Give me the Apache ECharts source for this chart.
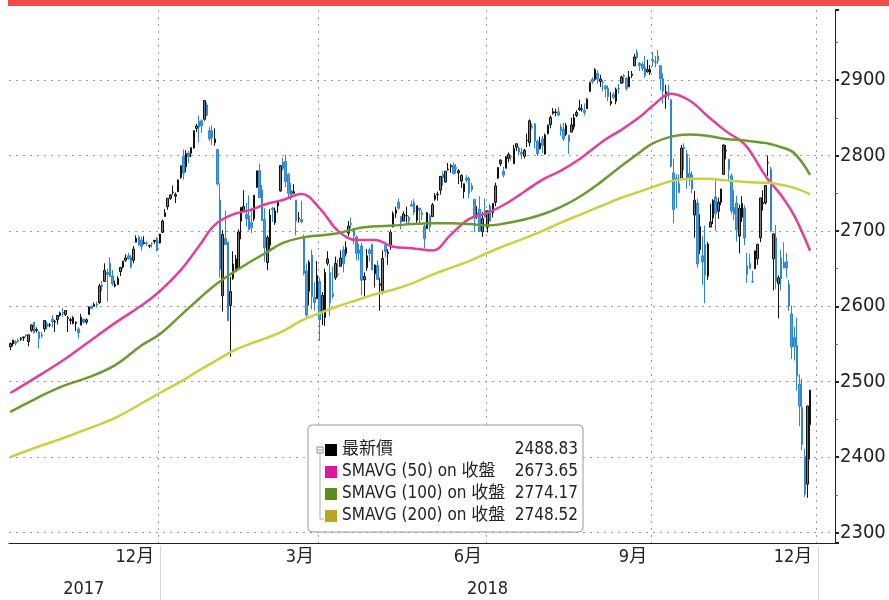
<!DOCTYPE html>
<html><head><meta charset="utf-8">
<script src="https://cdn.jsdelivr.net/npm/echarts@6/dist/echarts.min.js"></script>
<style>html,body{margin:0;padding:0;background:#fff}#c{width:889px;height:600px}</style>
</head><body><div id="c"></div>
<script>
// ---------- calendar ----------
const firstDay = '2017-10-10';
const lastCategoryDay = '2019-01-10';
const marketHolidays = ['2017-11-23','2017-12-25','2018-01-01','2018-01-15','2018-02-19','2018-03-30','2018-05-28','2018-07-04','2018-09-03','2018-11-22','2018-12-05','2018-12-25','2019-01-01'];

// ---------- daily prices (Oct 10 2017 .. Dec 27 2018) ----------
const opens = [
2546,2550,2553,2555,2556,2558,2562,2553,2568,2579,2568,2566,2562,2570,2577,2575,
2583,2579,2582,2588,2592,2589,2584,2581,2577,2577,2570,2575,2583,2579,2589,2600,2600,2603,2605,2628,2633,
2645,2657,2640,2627,2629,2646,2652,2661,2667,2665,2661,2685,2692,2688,2683,2684,2680,2683,2686,2690,
2684,2698,2719,2732,2743,2751,2746,2752,2771,2799,2785,2803,2803,2810,2836,2845,2846,2848,2867,2833,2833,
2817,2808,2741,2614,2690,2685,2601,2637,2646,2651,2713,2727,2722,2720,2711,2716,2758,2780,2754,
2715,2658,2681,2730,2711,2733,2753,2791,2792,2775,2754,2750,2741,2716,2715,2691,2647,2620,2668,2612,2610,
2633,2593,2585,2657,2645,2617,2638,2643,2653,2675,2670,2697,2710,2702,2692,2675,2680,2635,2651,2675,2682,
2643,2654,2628,2621,2681,2670,2679,2705,2723,2738,2719,2713,2720,2718,2735,2738,2714,2730,2724,2706,2703,2720,
2719,2742,2748,2754,2775,2765,2781,2785,2787,2784,2777,2766,2752,2770,2770,2760,2742,2723,2729,2699,2727,
2705,2733,2724,2738,2770,2789,2779,2783,2796,2799,2789,2811,2810,2804,2799,2820,2817,2839,2842,2819,2809,
2822,2802,2829,2841,2856,2857,2858,2838,2835,2828,2827,2831,2838,2853,2861,2861,2860,2862,2885,2901,2901,2909,2898,
2897,2892,2889,2869,2881,2872,2889,2896,2906,2903,2891,2906,2919,2937,2922,2921,2917,2911,2910,
2927,2924,2932,2919,2902,2878,2883,2874,2777,2770,2763,2768,2811,2802,2776,2774,2721,2737,2675,2667,2682,2640,2705,
2717,2745,2726,2738,2775,2806,2795,2773,2731,2737,2693,2718,2730,2654,2657,2633,2650,2663,2691,2736,2737,
2790,2782,2663,2691,2630,2664,2658,2659,2629,2590,2559,2548,2497,2466,2401,2364,2443];
const highs = [
2552,2555,2555,2557,2559,2559,2563,2562,2576,2579,2572,2567,2566,2582,2580,2578,
2588,2582,2588,2593,2598,2595,2587,2585,2587,2580,2572,2590,2583,2584,2600,2601,2605,2606,2630,2634,2657,
2650,2665,2648,2634,2640,2652,2660,2669,2671,2668,2680,2694,2694,2692,2693,2686,2682,2685,2688,2692,
2696,2715,2729,2743,2749,2760,2751,2768,2787,2808,2807,2806,2811,2833,2842,2853,2848,2873,2870,2838,2840,
2836,2808,2763,2701,2727,2686,2639,2673,2668,2702,2731,2754,2737,2747,2731,2747,2780,2789,2761,
2730,2694,2729,2732,2731,2740,2787,2797,2801,2777,2764,2762,2741,2725,2740,2695,2657,2661,2675,2632,2660,
2638,2619,2650,2673,2656,2653,2666,2662,2674,2680,2686,2713,2718,2703,2694,2683,2684,2645,2676,2678,2683,
2655,2661,2638,2674,2684,2676,2701,2726,2732,2743,2719,2726,2732,2720,2740,2742,2733,2731,2728,2710,2725,2723,
2737,2750,2752,2772,2779,2779,2790,2789,2791,2789,2782,2775,2763,2774,2772,2764,2742,2733,2746,2725,2743,
2727,2736,2737,2764,2784,2795,2785,2799,2804,2801,2814,2816,2812,2810,2809,2829,2848,2843,2843,2821,2825,
2826,2829,2841,2853,2863,2862,2864,2842,2843,2843,2827,2850,2855,2860,2874,2868,2869,2876,2898,2904,2916,2913,2907,
2900,2894,2893,2884,2884,2890,2895,2906,2908,2903,2912,2912,2935,2941,2924,2924,2932,2927,2920,
2937,2932,2940,2920,2909,2894,2894,2874,2796,2775,2775,2814,2816,2807,2797,2779,2753,2743,2722,2693,2707,2685,2736,
2742,2767,2744,2756,2815,2814,2795,2776,2754,2747,2735,2746,2734,2671,2670,2647,2674,2683,2744,2754,2760,
2800,2785,2697,2708,2641,2675,2685,2671,2635,2601,2573,2585,2510,2504,2411,2468,2489];
const lows = [
2542,2547,2548,2552,2554,2554,2559,2547,2566,2564,2565,2544,2558,2566,2569,2572,
2572,2566,2576,2586,2586,2587,2566,2576,2576,2567,2557,2575,2577,2576,2589,2596,2600,2598,2603,2620,2633,
2606,2639,2627,2625,2628,2640,2650,2659,2662,2650,2657,2685,2680,2674,2682,2680,2677,2678,2683,2673,
2683,2698,2719,2728,2741,2748,2737,2752,2769,2768,2778,2790,2798,2809,2831,2817,2830,2846,2852,2819,2814,
2813,2760,2638,2593,2681,2580,2533,2635,2646,2649,2689,2725,2706,2701,2697,2713,2757,2743,2713,
2659,2648,2675,2712,2708,2724,2752,2780,2758,2744,2741,2749,2694,2711,2710,2641,2586,2601,2596,2594,2610,
2554,2575,2574,2654,2587,2610,2635,2639,2653,2645,2666,2693,2704,2682,2661,2661,2615,2613,2647,2659,2648,
2625,2635,2594,2616,2665,2655,2675,2705,2717,2728,2702,2713,2711,2709,2732,2721,2708,2708,2714,2677,2703,2700,
2719,2740,2740,2748,2760,2764,2780,2777,2775,2776,2762,2757,2743,2764,2743,2752,2698,2716,2699,2692,2718,
2698,2712,2718,2733,2769,2786,2771,2783,2791,2793,2789,2806,2800,2795,2796,2811,2812,2835,2809,2799,2808,
2803,2801,2828,2836,2854,2852,2852,2826,2819,2826,2802,2831,2834,2851,2859,2858,2853,2862,2885,2895,2899,2895,2891,
2885,2877,2872,2866,2875,2868,2882,2895,2896,2886,2891,2903,2919,2928,2912,2912,2903,2910,2907,
2918,2917,2921,2886,2869,2862,2874,2784,2710,2730,2750,2768,2781,2756,2760,2750,2691,2651,2669,2628,2604,2635,2705,
2709,2700,2716,2734,2775,2795,2765,2722,2714,2686,2670,2712,2681,2631,2649,2631,2649,2655,2685,2727,2735,
2773,2698,2621,2623,2584,2621,2650,2638,2594,2530,2528,2488,2441,2409,2347,2346,2397];
const closes = [
2550.64,2555.24,2550.93,2553.17,2557.64,2559.36,2561.26,2562.10,2575.21,2564.98,2569.13,2557.15,2560.40,2581.07,2572.83,2575.26,
2579.36,2579.85,2587.84,2591.13,2590.64,2594.38,2584.62,2582.30,2584.84,2578.87,2564.62,2585.64,2578.85,2582.14,2599.03,2597.08,2602.42,2601.42,2627.04,2626.07,2647.58,
2642.22,2639.44,2629.57,2629.27,2636.98,2651.50,2659.99,2664.11,2662.85,2652.01,2675.81,2690.16,2681.47,2679.25,2684.57,2683.34,2680.50,2682.62,2687.54,2673.61,
2695.81,2713.06,2723.99,2743.15,2747.71,2751.29,2748.23,2767.56,2786.24,2776.42,2802.56,2798.03,2810.30,2832.97,2839.13,2837.54,2839.25,2872.87,2853.53,2822.43,2823.81,
2821.98,2762.13,2648.94,2695.14,2681.66,2581.00,2619.55,2656.00,2662.94,2698.63,2731.20,2732.22,2716.26,2701.33,2703.96,2747.30,2779.60,2744.28,2713.83,
2677.67,2691.25,2720.94,2728.12,2726.80,2738.97,2786.57,2783.02,2765.31,2749.48,2747.33,2752.01,2712.92,2716.94,2711.93,2643.69,2588.26,2658.55,2612.62,2605.00,2640.87,
2581.88,2614.45,2644.69,2662.84,2604.47,2613.16,2656.87,2642.19,2663.99,2656.30,2677.84,2706.39,2708.64,2693.13,2670.14,2670.29,2634.56,2639.40,2666.94,2669.91,2648.05,
2654.80,2635.67,2629.73,2663.42,2672.63,2671.92,2697.79,2723.07,2727.72,2730.13,2711.45,2722.46,2720.13,2712.97,2733.01,2724.44,2733.29,2727.76,2721.33,2689.86,2724.01,2705.27,
2734.62,2746.87,2748.80,2772.35,2770.37,2779.03,2782.00,2786.85,2775.63,2782.49,2779.66,2773.75,2762.59,2767.32,2749.76,2754.88,2717.07,2723.06,2699.63,2716.31,2718.37,
2726.71,2713.22,2736.61,2759.82,2784.17,2793.84,2774.02,2798.29,2801.31,2798.43,2809.55,2815.62,2804.49,2801.83,2806.98,2820.40,2846.07,2837.44,2818.82,2802.60,2816.29,
2813.36,2827.22,2840.35,2850.40,2858.45,2857.70,2853.58,2833.28,2821.93,2839.96,2818.37,2840.69,2850.13,2857.05,2862.96,2861.82,2856.98,2874.69,2896.74,2897.52,2914.04,2901.13,2901.52,
2896.72,2888.60,2878.05,2871.68,2877.13,2887.89,2888.92,2904.18,2904.98,2888.80,2904.31,2907.95,2930.75,2929.67,2919.37,2915.56,2905.97,2914.00,2913.98,
2924.59,2923.43,2925.51,2901.61,2885.57,2884.43,2880.34,2785.68,2728.37,2767.13,2750.79,2809.92,2809.21,2768.78,2767.78,2755.88,2740.69,2656.10,2705.57,2658.69,2641.25,2682.63,2711.74,
2740.37,2723.06,2738.31,2755.45,2813.89,2806.83,2781.01,2726.22,2722.18,2701.58,2730.20,2736.27,2690.73,2641.89,2649.93,2632.56,2673.45,2682.17,2743.79,2737.80,2760.17,
2790.37,2700.06,2695.95,2633.08,2637.72,2636.78,2651.07,2650.54,2599.95,2545.94,2546.16,2506.96,2467.42,2416.62,2351.10,2467.70,2488.83];

// ---------- moving averages ----------
const maDates = ['2017-10-10','2017-10-24','2017-11-07','2017-11-21','2017-12-06','2017-12-20','2018-01-02','2018-01-12','2018-01-24','2018-02-01','2018-02-12','2018-02-22','2018-03-01','2018-03-12','2018-03-21','2018-04-02','2018-04-11','2018-04-20','2018-05-01','2018-05-10','2018-05-21','2018-06-01','2018-06-12','2018-06-21','2018-07-02','2018-07-12','2018-07-23','2018-08-01','2018-08-10','2018-08-21','2018-09-04','2018-09-13','2018-09-24','2018-10-01','2018-10-10','2018-10-19','2018-10-30','2018-11-08','2018-11-19','2018-11-29','2018-12-03','2018-12-11','2018-12-18','2018-12-27'];
const sma50 = [2485,2506,2528,2553,2578,2601,2620,2648,2680,2708,2722,2728,2735,2741,2749,2730,2700,2688,2688,2679,2677,2674,2695,2716,2724,2736,2752,2768,2780,2795,2819,2834,2851,2866,2882,2873,2852,2832,2815,2778,2768,2747,2720,2673.65];
const sma100 = [2460,2478,2494,2506,2522,2548,2563,2588,2610,2628,2645,2660,2670,2684,2691,2694,2697,2703,2706,2707,2709,2710,2710,2709,2707,2710,2715,2722,2732,2745,2767,2786,2804,2816,2825,2828,2826,2822,2820,2817,2816,2811,2803,2774.17];
const sma200 = [2400,2413,2425,2438,2452,2471,2485,2500,2515,2527,2541,2551,2557,2567,2581,2591,2600,2608,2616,2622,2630,2642,2651,2660,2671,2681,2690,2700,2711,2721,2734,2744,2752,2758,2766,2769,2769,2767,2765,2764,2764,2761,2757,2748.52];

// ---------- labels ----------
const seriesNames = ['最新價','SMAVG (50) on 收盤','SMAVG (100) on 收盤','SMAVG (200) on 收盤'];
const legendValues = ['2488.83','2673.65','2774.17','2748.52'];
const quarterLabelDates = ['2017-12-29','2018-03-29','2018-06-29','2018-09-28','2018-12-31'];
const quarterLabels = ['12月','3月','6月','9月','12月'];
const quarterStartDates = ['2018-01-02','2018-04-02','2018-07-02','2018-10-01','2019-01-02'];
const yearLabelDates = ['2017-11-17','2018-07-02'];
const yearLabels = ['2017','2018'];
const yearStartDates = ['2018-01-02','2019-01-02'];

function buildTradingDays() {
  const out = [];
  const hol = new Set(marketHolidays);
  const p = s => s.split('-').map(Number);
  const [y0,m0,d0] = p(firstDay), [y1,m1,d1] = p(lastCategoryDay);
  let t = Date.UTC(y0,m0-1,d0);
  const end = Date.UTC(y1,m1-1,d1);
  while (t <= end) {
    const d = new Date(t);
    const wd = d.getUTCDay();
    const iso = d.toISOString().slice(0,10);
    if (wd !== 0 && wd !== 6 && !hol.has(iso)) out.push(iso);
    t += 86400000;
  }
  return out;
}
const tradingDays = buildTradingDays();
const monthStarts = new Set(tradingDays.filter((d,i) => i > 0 && d.slice(0,7) !== tradingDays[i-1].slice(0,7)));
const qLabelMap = {}; quarterLabelDates.forEach((d,i) => qLabelMap[d] = quarterLabels[i]);
const yLabelMap = {}; yearLabelDates.forEach((d,i) => yLabelMap[d] = yearLabels[i]);
const qStart = new Set(quarterStartDates);

const candleData = closes.map((c,i) => [opens[i], c, lows[i], highs[i]]);
const FONT = "'Liberation Sans Narrow','DejaVu Sans Condensed','Liberation Sans','Noto Sans CJK TC',sans-serif";
const lineColors = ['#e23f9c','#6b9a2e','#cbcf42'];
const legendColors = ['#000000','#e0179b','#5b8c1f','#b9a521'];

const chart = echarts.init(document.getElementById('c'), null, {renderer:'canvas'});
chart.setOption({
  animation: false,
  backgroundColor: '#ffffff',
  grid: [
    {left: 9, right: 54, top: 10, bottom: 57},
    {left: 9, right: 54, top: 546, bottom: 0}
  ],
  xAxis: [{
    type: 'category', data: tradingDays, boundaryGap: true, gridIndex: 0,
    axisLine: {lineStyle: {color: '#222', width: 1}},
    axisTick: {interval: (i,v) => monthStarts.has(v), length: 5, lineStyle: {color: '#444'}},
    axisLabel: {interval: (i,v) => v in qLabelMap, formatter: v => qLabelMap[v] || '',
      align: 'right', fontSize: 18, color: '#222', margin: 5, padding: [0,3,0,0], fontFamily: FONT},
    splitLine: {show: true, interval: (i,v) => qStart.has(v), lineStyle: {type: [2,5], color: '#9a9a9a', width: 1}}
  }, {
    type: 'category', data: tradingDays, boundaryGap: true, position: 'bottom', gridIndex: 0,
    axisLine: {show: false}, axisTick: {show: false},
    axisLabel: {interval: (i,v) => v in yLabelMap, formatter: v => yLabelMap[v] || '',
      fontSize: 18, color: '#222', margin: 37, fontFamily: FONT},
    splitLine: {show: false}
  }, {
    type: 'category', data: tradingDays, boundaryGap: true, gridIndex: 1, show: false
  }],
  yAxis: [{
    type: 'value', position: 'right', min: 2286, max: 2993, scale: true, gridIndex: 0,
    axisLine: {show: true, lineStyle: {color: '#222', width: 1}},
    axisTick: {show: true, length: 4, lineStyle: {color: '#222', width: 2}},
    minorTick: {show: true, splitNumber: 2, length: 3, lineStyle: {color: '#666'}},
    axisLabel: {formatter: v => (v % 100 === 0 ? String(v) : ''), fontSize: 20, color: '#222', margin: 5, fontFamily: FONT},
    splitLine: {show: true, showMinLine: false, showMaxLine: false, lineStyle: {type: [2,5], color: '#9a9a9a', width: 1}}
  }, {
    type: 'value', gridIndex: 1, min: 0, max: 1, show: false
  }],
  legend: {
    orient: 'vertical', left: 308, top: 425, icon: 'rect', itemWidth: 12, itemHeight: 12, itemGap: 2,
    padding: [15, 5, 6, 17], backgroundColor: '#fff', borderColor: '#9a9a9a', borderWidth: 1, borderRadius: 4,
    data: seriesNames.map((n,i) => ({name: n, itemStyle: {color: legendColors[i], borderWidth: 0}})),
    formatter: name => '{n|' + name + '}{v|' + legendValues[seriesNames.indexOf(name)] + '}',
    textStyle: {fontSize: 17, color: '#222', fontFamily: FONT, lineHeight: 20,
      rich: {n: {width: 170, fontSize: 17, fontFamily: FONT, color: '#222'},
             v: {width: 66, align: 'right', fontSize: 17, fontFamily: FONT, color: '#222'}}},
    selectedMode: false
  },
  graphic: [
    {type: 'rect', shape: {x: 8, y: 0, width: 881, height: 6}, style: {fill: '#f24b4b'}, silent: true},
    {type: 'rect', shape: {x: 317, y: 447, width: 6, height: 6}, style: {fill: '#fff', stroke: '#888', lineWidth: 1}, silent: true, z: 100},
    {type: 'line', shape: {x1: 318.5, y1: 450, x2: 321.5, y2: 450}, style: {stroke: '#666', lineWidth: 1}, silent: true, z: 100},
    {type: 'polyline', shape: {points: [[320, 453], [320, 519], [324, 519]]}, style: {stroke: '#aaa', lineWidth: 1, fill: null}, silent: true, z: 100}
  ],
  series: [{
    name: seriesNames[0], type: 'candlestick', xAxisIndex: 0, yAxisIndex: 0, data: candleData, barWidth: 2,
    itemStyle: {color: '#7a7a7a', color0: '#4a9de0', borderColor: '#111', borderColor0: '#2f86d0', borderWidth: 1},
    z: 3
  }, {
    name: seriesNames[1], type: 'line', xAxisIndex: 0, yAxisIndex: 0, smooth: 0.4, symbol: 'none',
    data: maDates.map((d,i) => [d, sma50[i]]), lineStyle: {color: lineColors[0], width: 2.5}, itemStyle: {color: lineColors[0]}, z: 4
  }, {
    name: seriesNames[2], type: 'line', xAxisIndex: 0, yAxisIndex: 0, smooth: 0.4, symbol: 'none',
    data: maDates.map((d,i) => [d, sma100[i]]), lineStyle: {color: lineColors[1], width: 2.5}, itemStyle: {color: lineColors[1]}, z: 4
  }, {
    name: seriesNames[3], type: 'line', xAxisIndex: 0, yAxisIndex: 0, smooth: 0.4, symbol: 'none',
    data: maDates.map((d,i) => [d, sma200[i]]), lineStyle: {color: lineColors[2], width: 2.5}, itemStyle: {color: lineColors[2]}, z: 4
  }, {
    name: 'yearSeparators', type: 'line', xAxisIndex: 2, yAxisIndex: 1, symbol: 'none', silent: true,
    data: [], lineStyle: {opacity: 0},
    markLine: {symbol: 'none', silent: true, label: {show: false}, animation: false,
      lineStyle: {color: '#d4d4d4', type: 'solid', width: 1},
      data: yearStartDates.map(d => ({xAxis: d}))}
  }]
});
</script>
</body></html>
